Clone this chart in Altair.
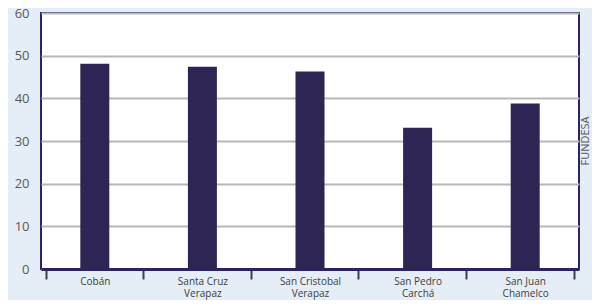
import altair as alt
import pandas as pd

categories = ["Cobán", "Santa Cruz Verapaz", "San Cristobal Verapaz", "San Pedro Carchá", "San Juan Chamelco"]
values = [48.1, 47.4, 46.3, 33.1, 38.8]
source_label = "FUNDESA"

df = pd.DataFrame({"municipio": categories, "valor": values})

label_expr = (
    "lastindexof(datum.label, ' ') > 0 ? "
    "[substring(datum.label, 0, lastindexof(datum.label, ' ')), "
    "substring(datum.label, lastindexof(datum.label, ' ') + 1)] : datum.label"
)

bars = alt.Chart(df).mark_bar(size=29, color="#2E2554").encode(
    x=alt.X(
        "municipio:N",
        sort=categories,
        title=None,
        axis=alt.Axis(
            labelAngle=0,
            labelExpr=label_expr,
            labelFont="Open Sans",
            labelFontSize=10,
            labelColor="#404040",
            labelPadding=-3,
            labelLineHeight=12.5,
            tickBand="extent",
            tickSize=10,
            tickWidth=2,
            tickColor="#404040",
            domainColor="#2A2466",
            domainWidth=3,
            grid=False,
        ),
    ),
    y=alt.Y(
        "valor:Q",
        title=None,
        scale=alt.Scale(domain=[0, 60], nice=False),
        axis=alt.Axis(
            values=[0, 10, 20, 30, 40, 50, 60],
            labelFont="Open Sans",
            labelFontSize=13,
            labelColor="#595959",
            labelPadding=12,
            ticks=False,
            domain=False,
            gridColor="#B8B8B8",
            gridWidth=2,
        ),
    ),
)

src = alt.Chart(pd.DataFrame({"t": [source_label]})).mark_text(
    angle=270, font="Open Sans", fontSize=11, color="#595959", align="center", baseline="middle"
).encode(
    text="t:N",
    x=alt.value(545),
    y=alt.value(128),
)

chart = (
    alt.layer(bars, src)
    .properties(
        width=538,
        height=256,
        background="#E5EDF6",
        padding={"left": 33, "top": 5, "right": 13, "bottom": 31},
        autosize=alt.AutoSizeParams(type="none"),
    )
    .configure_view(stroke="#2A2466", strokeWidth=2, fill="white")
)

chart.save("out.html", embed_options={"renderer": "svg", "actions": False})
